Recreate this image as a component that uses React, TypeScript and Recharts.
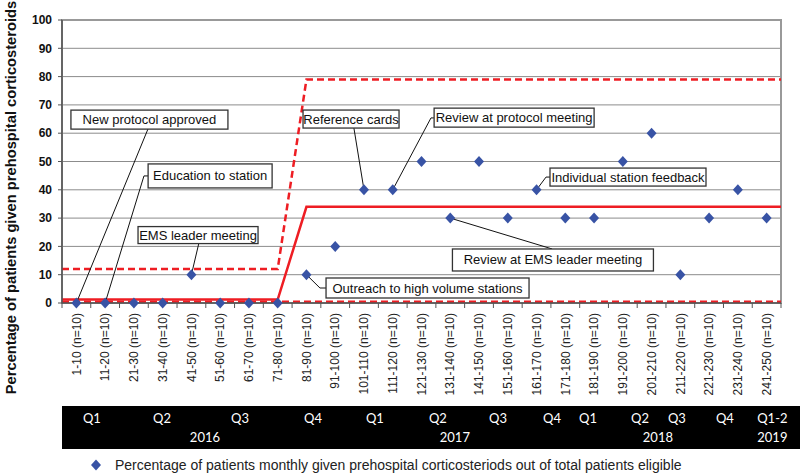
import React from 'react';
import {
  ComposedChart,
  Scatter,
  Line,
  XAxis,
  YAxis,
  CartesianGrid,
  ReferenceLine,
  ReferenceDot,
  ReferenceArea,
} from 'recharts';

// ---------- data ----------
const categories = [
  '1-10 (n=10)', '11-20 (n=10)', '21-30 (n=10)', '31-40 (n=10)', '41-50 (n=10)',
  '51-60 (n=10)', '61-70 (n=10)', '71-80 (n=10)', '81-90 (n=10)', '91-100 (n=10)',
  '101-110 (n=10)', '111-120 (n=10)', '121-130 (n=10)', '131-140 (n=10)', '141-150 (n=10)',
  '151-160 (n=10)', '161-170 (n=10)', '171-180 (n=10)', '181-190 (n=10)', '191-200 (n=10)',
  '201-210 (n=10)', '211-220 (n=10)', '221-230 (n=10)', '231-240 (n=10)', '241-250 (n=10)',
];
const percentages = [0, 0, 0, 0, 10, 0, 0, 0, 10, 20, 40, 40, 50, 30, 50, 30, 40, 30, 30, 50, 60, 10, 30, 40, 30];

const limitX = [0.5, 8, 9, 25.5];
const centerLine = [1.2, 1.2, 34, 34];
const upperLimit = [12, 12, 79, 79];
const lowerLimit = [0.4, 0.4, 0.4, 0.4];

const quarterLabels = ['Q1', 'Q2', 'Q3', 'Q4', 'Q1', 'Q2', 'Q3', 'Q4', 'Q1', 'Q2', 'Q3', 'Q4', 'Q1-2'];
const quarterPos = [1.54, 3.98, 6.69, 9.23, 11.38, 13.57, 15.66, 17.54, 18.79, 20.6, 21.88, 23.55, 25.2];
const yearLabels = ['2016', '2017', '2018', '2019'];
const yearPos = [5.47, 14.16, 21.22, 25.2];

const yTicks = [0, 10, 20, 30, 40, 50, 60, 70, 80, 90, 100];

const annotationTexts = [
  'New protocol approved',
  'Education to station',
  'EMS leader meeting',
  'Reference cards',
  'Review at protocol meeting',
  'Individual station feedback',
  'Review at EMS leader meeting',
  'Outreach to high volume stations',
];
const annotationTargets = [1, 2, 5, 11, 12, 17, 14, 9];

// layout of annotation boxes (data units) and sizes (px)
const annotationLayout = [
  { box: [3.54, 64.8], w: 157, h: 19, path: [[3.49, 61.5]] },
  { box: [5.65, 44.9], w: 124, h: 24, path: [[3.35, 44.9], [3.5, 44.9]] },
  { box: [5.23, 24.0], w: 120, h: 17, path: [[5.26, 21.2]] },
  { box: [10.55, 65.0], w: 96, h: 18, path: [[10.65, 61.8]] },
  { box: [16.22, 65.5], w: 160, h: 19, path: [[13.33, 65.4], [13.43, 65.4]] },
  { box: [20.18, 44.5], w: 156, h: 18, path: [[17.33, 44.5], [17.47, 44.5]] },
  { box: [17.57, 15.2], w: 201, h: 22, path: [[17.54, 19.1]] },
  { box: [13.21, 5.3], w: 203, h: 20, path: [[9.47, 5.3], [9.68, 5.3]] },
];

// ---------- derived ----------
const pointData = percentages.map((v, i) => ({ x: i + 1, y: v }));
const mkLine = (ys: number[]) => limitX.map((x, i) => ({ x, y: ys[i] }));
const clData = mkLine(centerLine);
const uclData = mkLine(upperLimit);
const lclData = mkLine(lowerLimit);

const xTicks: number[] = [];
for (let i = 0; i <= categories.length; i++) {
  xTicks.push(i + 0.5);
  if (i < categories.length) xTicks.push(i + 1);
}

const RED = '#ee1d23';
const BLUE = '#3853a5';
const FONT = '"Liberation Sans", Arial, sans-serif';

const XTick = (props: any) => {
  const { x, y, payload } = props;
  const v = payload.value;
  if (Number.isInteger(v)) {
    const label = categories[v - 1];
    return (
      <text
        transform={`translate(${x},${y + 10}) rotate(-90)`}
        textAnchor="end"
        dy="0.35em"
        fontSize={12}
        fontFamily={FONT}
        fill="#222"
      >
        {label}
      </text>
    );
  }
  return <line x1={x} x2={x} y1={y} y2={y + 5} stroke="#555" strokeWidth={1} />;
};

const BandLabel = (props: any) => {
  const vb = props.viewBox;
  if (!vb) return null;
  const toPx = (v: number) => vb.x + ((v - 0.5) / 25) * vb.width;
  const top = vb.y + 103;
  return (
    <g>
      <rect x={vb.x} y={top} width={800 - vb.x} height={43} fill="#000" />
      {quarterLabels.map((q, i) => (
        <text
          key={'q' + i}
          x={toPx(quarterPos[i])}
          y={top + 12}
          textAnchor="middle"
          dominantBaseline="central"
          fill="#fff"
          fontSize={13}
          fontFamily="Lato, sans-serif"
        >
          {q}
        </text>
      ))}
      {yearLabels.map((q, i) => (
        <text
          key={'y' + i}
          x={toPx(yearPos[i])}
          y={top + 31}
          textAnchor="middle"
          dominantBaseline="central"
          fill="#fff"
          fontSize={13}
          fontFamily="Lato, sans-serif"
        >
          {q}
        </text>
      ))}
    </g>
  );
};

const YTitle = (props: any) => {
  const vb = props.viewBox;
  if (!vb) return null;
  return (
    <text
      transform={`translate(${vb.x + 11},${vb.y + vb.height / 2 + 36}) rotate(-90)`}
      textAnchor="middle"
      dominantBaseline="central"
      fontSize={14.7}
      fontWeight="bold"
      fontFamily={FONT}
      fill="#111"
    >
      Percentage of patients given prehospital corticosteroids
    </text>
  );
};

const Diamond = (p: any) => (
  <polygon
    points={`${p.cx},${p.cy - 5.5} ${p.cx + 5},${p.cy} ${p.cx},${p.cy + 5.5} ${p.cx - 5},${p.cy}`}
    fill={BLUE}
  />
);

export default function App() {
  return (
    <div style={{ position: 'absolute', left: 0, top: 0, width: 800, height: 474, background: '#fff' }}>
      <ComposedChart width={800} height={474} margin={{ top: 20, right: 19, bottom: 25, left: 0 }}>
        <CartesianGrid horizontal vertical={false} stroke="#8c8c8c" strokeWidth={1} />
        <XAxis
          dataKey="x"
          type="number"
          domain={[0.5, 25.5]}
          ticks={xTicks}
          interval={0}
          tick={<XTick />}
          tickLine={false}
          tickSize={0}
          tickMargin={0}
          height={146}
          axisLine={{ stroke: '#555', strokeWidth: 1.5 }}
          label={{ content: <BandLabel /> }}
          allowDataOverflow
        />
        <YAxis
          type="number"
          domain={[0, 100]}
          ticks={yTicks}
          interval={0}
          width={62}
          tickSize={4}
          tickMargin={6}
          tick={{ fontSize: 12, fontWeight: 'bold', fill: '#111', fontFamily: FONT }}
          tickLine={{ stroke: '#555' }}
          axisLine={{ stroke: '#555', strokeWidth: 1.5 }}
          label={{ content: <YTitle /> }}
        />
        <ReferenceArea
          x1={0.5}
          x2={25.5}
          y1={0}
          y2={100}
          fill="none"
          fillOpacity={0}
          stroke="#999"
          strokeWidth={2}
          ifOverflow="visible"
        />
        <Line data={lclData} dataKey="y" type="linear" dot={false} stroke={RED} strokeWidth={2.5} strokeDasharray="7 4" isAnimationActive={false} />
        <Line data={uclData} dataKey="y" type="linear" dot={false} stroke={RED} strokeWidth={2.5} strokeDasharray="7 4" isAnimationActive={false} />
        <Line data={clData} dataKey="y" type="linear" dot={false} stroke={RED} strokeWidth={2.5} isAnimationActive={false} />
        {annotationLayout.map((a, i) => {
          const t = annotationTargets[i];
          const pts = [[t, percentages[t - 1]], ...a.path];
          return pts.slice(1).map((p, j) => (
            <ReferenceLine
              key={`l${i}-${j}`}
              segment={[
                { x: pts[j][0], y: pts[j][1] },
                { x: p[0], y: p[1] },
              ]}
              stroke="#111"
              strokeWidth={1}
              ifOverflow="visible"
            />
          ));
        })}
        <Scatter data={pointData} dataKey="y" shape={<Diamond />} isAnimationActive={false} />
        {annotationLayout.map((a, i) => (
          <ReferenceDot
            key={`b${i}`}
            x={a.box[0]}
            y={a.box[1]}
            r={0}
            ifOverflow="visible"
            shape={(p: any) => (
              <g>
                <rect
                  x={p.cx - a.w / 2}
                  y={p.cy - a.h / 2}
                  width={a.w}
                  height={a.h}
                  fill="#fff"
                  stroke="#333"
                  strokeWidth={1.3}
                />
                <text
                  x={p.cx}
                  y={p.cy}
                  textAnchor="middle"
                  dominantBaseline="central"
                  fontSize={13}
                  fontFamily={FONT}
                  fill="#111"
                >
                  {annotationTexts[i]}
                </text>
              </g>
            )}
          />
        ))}
      </ComposedChart>
      <div
        style={{
          position: 'absolute',
          left: 89,
          top: 457,
          display: 'flex',
          alignItems: 'center',
          fontFamily: FONT,
          fontSize: 14,
          color: '#222',
          whiteSpace: 'nowrap',
        }}
      >
        <svg width={14} height={14} style={{ marginRight: 12 }}>
          <polygon points="7,1.5 12,7 7,12.5 2,7" fill={BLUE} />
        </svg>
        <span>Percentage of patients monthly given prehospital corticosteriods out of total patients eligible</span>
      </div>
    </div>
  );
}
